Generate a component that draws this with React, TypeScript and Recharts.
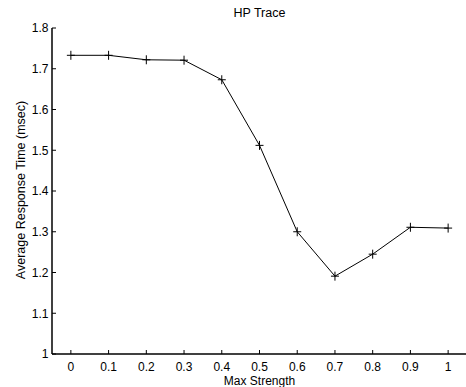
import { LineChart, Line, XAxis, YAxis } from "recharts"

const strengths = [0, 0.1, 0.2, 0.3, 0.4, 0.5, 0.6, 0.7, 0.8, 0.9, 1]
const responseTimes = [1.733, 1.733, 1.722, 1.721, 1.673, 1.512, 1.3, 1.191, 1.245, 1.311, 1.309]
const xTicks = [0, 0.1, 0.2, 0.3, 0.4, 0.5, 0.6, 0.7, 0.8, 0.9, 1]
const yTicks = [1, 1.1, 1.2, 1.3, 1.4, 1.5, 1.6, 1.7, 1.8]

const FONT = "'Liberation Sans', Arial, Helvetica, sans-serif"
const TICK_LEN = 4

const data = strengths.map((s, i) => ({ strength: s, time: responseTimes[i] }))

const fmt = (v: number) => String(Math.round(v * 10) / 10)

function BottomTick({ x, y, payload }: any) {
  return (
    <g>
      <line x1={x} y1={y} x2={x} y2={y - TICK_LEN} stroke="#000" />
      <text x={x} y={y + 17} textAnchor="middle" fontSize={12} fontFamily={FONT} fill="#000">
        {fmt(payload.value)}
      </text>
    </g>
  )
}

function LeftTick({ x, y, payload }: any) {
  return (
    <g>
      <line x1={x} y1={y} x2={x + TICK_LEN} y2={y} stroke="#000" />
      <text x={x - 3.5} y={y + 4.3} textAnchor="end" fontSize={12} fontFamily={FONT} fill="#000">
        {fmt(payload.value)}
      </text>
    </g>
  )
}

function TopTick({ x, y }: any) {
  return <line x1={x} y1={y} x2={x} y2={y + TICK_LEN} stroke="#000" />
}

function RightTick({ x, y }: any) {
  return <line x1={x} y1={y} x2={x - TICK_LEN} y2={y} stroke="#000" />
}

function PlusDot({ cx, cy, index }: any) {
  return (
    <path
      key={`plus-${index}`}
      d={`M${cx - 4},${cy}H${cx + 4}M${cx},${cy - 4.5}V${cy + 4.5}`}
      stroke="#000"
      strokeWidth={1}
      fill="none"
    />
  )
}

export default function App() {
  const axisLine = { stroke: "#000", strokeWidth: 1.5 }
  return (
    <div
      style={{
        position: "fixed",
        left: 0,
        top: 0,
        width: 466,
        height: 387,
        overflow: "hidden",
        background: "#fff",
      }}
    >
      <LineChart width={470} height={387} data={data} margin={{ top: 28, right: 3, bottom: 0, left: 0 }}>
        <XAxis
          dataKey="strength"
          type="number"
          domain={[-0.05, 1.05]}
          ticks={xTicks}
          height={33}
          tickSize={0}
          tickMargin={0}
          axisLine={axisLine}
          tick={<BottomTick />}
          interval={0}
        />
        <XAxis
          xAxisId="top"
          orientation="top"
          type="number"
          domain={[-0.05, 1.05]}
          ticks={xTicks}
          height={0}
          tickSize={0}
          tickMargin={0}
          axisLine={axisLine}
          tick={<TopTick />}
          interval={0}
        />
        <YAxis
          type="number"
          domain={[1, 1.8]}
          ticks={yTicks}
          width={52}
          tickSize={0}
          tickMargin={0}
          axisLine={axisLine}
          tick={<LeftTick />}
          interval={0}
        />
        <YAxis
          yAxisId="right"
          orientation="right"
          type="number"
          domain={[1, 1.8]}
          ticks={yTicks}
          width={0}
          tickSize={0}
          tickMargin={0}
          axisLine={axisLine}
          tick={<RightTick />}
          interval={0}
        />
        <Line
          type="linear"
          dataKey="time"
          stroke="#000"
          strokeWidth={1}
          dot={<PlusDot />}
          activeDot={false}
          isAnimationActive={false}
        />
      </LineChart>
      <svg
        width={466}
        height={387}
        style={{ position: "absolute", left: 0, top: 0, pointerEvents: "none" }}
      >
        <text x={259.5} y={17.3} textAnchor="middle" fontSize={12.5} fontFamily={FONT} fill="#000">
          HP Trace
        </text>
        <text x={259.5} y={385} textAnchor="middle" fontSize={12} fontFamily={FONT} fill="#000">
          Max Strength
        </text>
        <text
          x={0}
          y={0}
          transform="translate(25,190) rotate(-90)"
          textAnchor="middle"
          fontSize={12.5}
          fontFamily={FONT}
          fill="#000"
        >
          Average Response Time (msec)
        </text>
      </svg>
    </div>
  )
}
